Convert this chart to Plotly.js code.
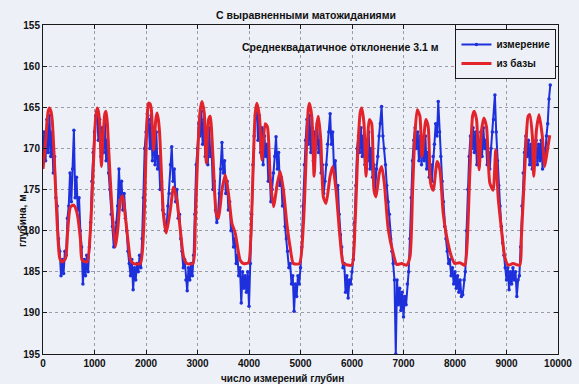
<!DOCTYPE html>
<html>
<head>
<meta charset="utf-8">
<script src="https://cdn.plot.ly/plotly-3.0.1.min.js"></script>
<style>html,body{margin:0;padding:0;background:#edf0f7;}#chart{width:579px;height:384px;}</style>
</head>
<body>
<div id="chart"></div>
<script>
// ---- data ----
const measStep = 25; // sample spacing of the measured series
const measDepth = [
170.5,168,171.5,166.5,170.5,166,171,168,173,171,176,177,181,182.5,185.5,183.5,185.2,182.5,183,178.5,
177,173,176.5,172.5,167.8,176,173.5,177.5,176,180,182,186.5,183.5,185.5,183,185,182,179,174,170.5,
168,166,165.5,169,166.5,171,167.5,170.5,166.5,171.5,169,173,175,178,179.5,182,181,179,177,172.5,
176,174,177.5,175.5,178.5,180,182.5,184,185.5,183.5,187.2,184.5,186,184,185,183,184.5,181,176,170,
168,165.8,166.5,170,166,171.5,167.5,172,168,172.5,171,175,174,177.5,178,180,179.5,177,175.5,172,
169.8,174,172.5,176.5,175,178.5,178,181,182.5,184.5,183.5,186,187.3,184.5,186,184,185.5,183,178,172,
170,167,168.5,165.5,169.5,166.5,171,168,172,167.5,171,170.5,175,174,177.5,179,178,175.5,172.5,169.3,
173,171.5,175.5,174,177.5,176.5,180,179.5,182,181,184,183,185.5,184.5,188.8,185,187,185.5,187.5,185,
189.2,184,178,172,168.5,166,165,169,166,170.5,167.5,172,168.5,171,169.5,174,173,176.5,175,173,
171,168.6,172.5,170.5,174.5,173.5,177,176.5,179.5,181,182.5,184.5,184,186.5,185.5,189.8,186.5,188,185.5,186.5,
184.5,182,177,172,169,166.5,169.5,166,170.5,167.5,171.5,168,170,167,170.5,169,173,172,175.5,174,
172,169.5,168,165.8,169.5,168,172.5,171.5,175,174.5,178,180.5,182,184.5,184,187.5,185.5,188.2,186,186.5,
185,183.5,179,174.5,170,168.5,170.5,167.5,171,168.5,172,169,171.5,168,172.5,170,173.5,172,175,172.5,
171,168.5,167,164.9,168.5,170,172,174.5,176.5,178,181,182.5,184,186,195,186,189,187,189.7,187.5,
190.5,188,189,186.5,185,181,176,171.5,169,167.5,170,168,171.5,168.5,172,169,171.5,168.5,172.5,170.5,
173.5,172,174,171,169.5,167,168.5,164.3,168,171,174,176.5,179.5,181,182.5,184,183.5,185.5,184.5,186.5,
185,187,185.5,187.5,186,188,187.8,186,185,180,175,171,168.5,170,167.5,170.5,168,172,169,171.5,
168,171,167.5,170,169,172,170.5,172.5,170,168,166.5,163.5,168,171.5,174.5,177,179.5,181.5,183,184.5,
186,184.5,187.2,185,186.5,184.5,186,185,188,186,185.5,182,177,173,170.5,168.5,171,169,172,169.5,
172.5,170,171.5,169,172,169.5,171.5,169,172.5,170,171.5,168.5,167,164,162.3
];
const baseX = [0,40,68,100,126,150,178,223,275,326,372,436,481,533,597,640,675,727,760,857,921,985,
1020,1050,1075,1101,1134,1160,1179,1200,1225,1250,1276,1341,1406,1451,1503,1547,1599,1664,1700,1760,1890,1954,
2007,2030,2051,2080,2104,2148,2190,2214,2240,2265,2342,2394,2472,2536,2601,2666,2730,2795,2912,2957,
3002,3050,3086,3131,3170,3215,3247,3300,3364,3408,3474,3538,3602,3668,3732,3829,3893,3990,
4036,4087,4120,4153,4203,4250,4314,4358,4411,4475,4552,4605,4669,4734,4798,4862,4979,
5057,5122,5150,5173,5219,5264,5310,5347,5394,5444,5496,5574,5626,5690,5754,5800,5832,5995,
6059,6122,6160,6188,6233,6272,6336,6382,6427,6466,6530,6576,6627,6705,6801,6867,6964,
7061,7125,7177,7222,7267,7319,7357,7435,7480,7526,7577,7654,7707,7771,7837,7933,7997,
8094,8191,8236,8288,8341,8372,8418,8468,8515,8560,8612,8676,8740,8790,8837,8903,8967,
9031,9128,9257,9290,9354,9419,9451,9503,9529,9581,9632,9697,9742,9794,9839];
const baseDepth = [172.5,170,167.8,165.5,165.1,165.4,166.5,171.8,179.1,183.4,183.8,183.4,179.9,177.1,176.9,177.4,178.3,181.1,183.6,183.8,179.9,171.0,
166.5,165.1,165.5,166.95,172.2,169,167.4,165.8,165.5,167,170.2,177.5,182.0,179.9,176.3,175.8,178.3,182.0,183.6,184.0,184.0,179.9,
169.0,165.5,164.5,164.6,165.3,170.2,166.5,165.7,166.5,168.2,178.3,180.3,177.5,174.7,176.3,179.9,183.2,184.0,184.0,179.1,
171.0,165.5,164.3,165.7,171.8,166.5,166.1,171.0,177.9,178.5,175.1,173.2,175.5,179.1,180.3,183.6,184.0,183.9,
180.7,171.0,165.8,164.5,166.1,171.4,167.0,167.4,173.4,177.1,174.2,172.8,175.1,179.1,182.0,184.0,184.0,
179.1,169.0,165.3,164.5,166.1,173.4,167.5,166.1,169.0,175.9,176.7,173.4,172.2,175.1,179.9,183.0,184.0,184.2,
179.1,169.0,165.6,165.1,167.0,173.4,166.5,167.0,175.1,175.9,173.0,172.2,174.2,179.9,182.8,184.1,184.0,
184.2,183.2,175.1,168.2,165.3,166.1,171.0,166.5,167.4,174.2,175.1,171.6,172.6,177.9,180.7,183.2,184.0,
183.9,184.2,181.5,173.0,166.1,165.5,166.5,172.6,167.8,166.3,167.4,174.2,175.1,170.2,175.9,179.9,183.2,
184.2,184.0,184.2,180.7,172.6,166.1,165.9,168.6,173.4,167.8,165.9,168.6,172.2,170.2,168.4];
const seriesNames = ['измерение','из базы'];
const xTicks = [0,1000,2000,3000,4000,5000,6000,7000,8000,9000,10000];
const yTicks = [155,160,165,170,175,180,185,190,195];
const titleText = 'С выравненными матожиданиями';
const noteText = 'Среднеквадатичное отклонение 3.1 м';
const xLabel = 'число измерений глубин';
const yLabel = 'глубина, м';

const measX = measDepth.map((_, i) => i * measStep);
const F = 'Liberation Sans, Arial, sans-serif';
const bg = '#edf0f7';

const traces = [
  {x: measX, y: measDepth, name: seriesNames[0], type: 'scatter', mode: 'lines+markers',
   line: {color: '#1d30dc', width: 2}, marker: {color: '#1d30dc', size: 3.5}},
  {x: baseX, y: baseDepth, name: seriesNames[1], type: 'scatter', mode: 'lines',
   line: {color: '#e3232b', width: 3, shape: 'spline', smoothing: 0.6}}
];

const axisCommon = {
  showline: true, linecolor: '#1a1a1a', linewidth: 1, mirror: 'ticks',
  ticks: 'inside', ticklen: 4, tickcolor: '#1a1a1a',
  showgrid: true, gridcolor: '#9a9ca8', griddash: 'dot', gridwidth: 1,
  zeroline: false, tickfont: {family: F, size: 10, color: '#111', weight: 'bold'}
};

const layout = {
  width: 579, height: 384,
  paper_bgcolor: bg, plot_bgcolor: bg,
  margin: {l: 43, r: 21, t: 25, b: 30},
  title: {text: titleText, font: {family: F, size: 10.5, color: '#111', weight: 'bold'},
          x: 306/579, xanchor: 'center', xref: 'container', y: 1 - 15/384, yanchor: 'middle', yref: 'container'},
  xaxis: Object.assign({}, axisCommon, {range: [0, 10000], tickvals: xTicks, ticktext: xTicks.map(String)}),
  yaxis: Object.assign({}, axisCommon, {range: [195, 155], tickvals: yTicks, ticktext: yTicks.map(String)}),
  showlegend: true,
  legend: {x: 0.997, xanchor: 'right', y: 0.988, yanchor: 'top', bgcolor: bg,
           bordercolor: '#1a1a1a', borderwidth: 1, font: {family: F, size: 10, color: '#111', weight: 'bold'},
           itemwidth: 30, tracegroupgap: 0},
  annotations: [
    {text: noteText, xref: 'paper', yref: 'paper', x: (340-43)/515, y: (354-47)/329, showarrow: false,
     font: {family: F, size: 10.5, color: '#111', weight: 'bold'}, xanchor: 'center', yanchor: 'middle'},
    {text: xLabel, xref: 'paper', yref: 'paper', x: (282-43)/515, y: (354-378)/329, showarrow: false,
     font: {family: F, size: 10, color: '#111', weight: 'bold'}, xanchor: 'center', yanchor: 'middle'},
    {text: yLabel, xref: 'paper', yref: 'paper', x: (22-43)/515, y: (354-221)/329, showarrow: false, textangle: -90,
     font: {family: F, size: 10, color: '#111', weight: 'bold'}, xanchor: 'center', yanchor: 'middle'}
  ]
};

Plotly.newPlot('chart', traces, layout, {displayModeBar: false, staticPlot: true});
</script>
</body>
</html>
